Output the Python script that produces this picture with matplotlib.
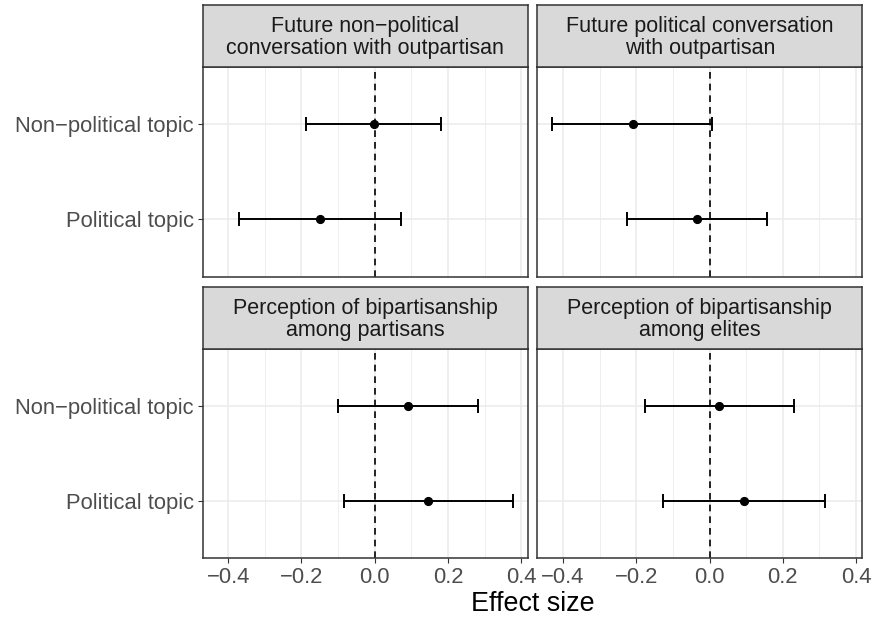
import matplotlib
matplotlib.use("Agg")
import matplotlib.pyplot as plt
from matplotlib.ticker import MultipleLocator

plt.rcParams["font.family"] = ["Liberation Sans", "DejaVu Sans"]

W, H = 873, 620

panel_titles = [
    "Future non\u2212political\nconversation with outpartisan",
    "Future political conversation\nwith outpartisan",
    "Perception of bipartisanship\namong partisans",
    "Perception of bipartisanship\namong elites",
]
topics = ["Political topic", "Non\u2212political topic"]

# estimates and 95% intervals, order: political, non-political
estimates = [
    [-0.150, -0.003],
    [-0.033, -0.210],
    [0.146, 0.091],
    [0.094, 0.027],
]
lower = [
    [-0.370, -0.188],
    [-0.224, -0.430],
    [-0.084, -0.100],
    [-0.127, -0.176],
]
upper = [
    [0.071, 0.182],
    [0.158, 0.007],
    [0.377, 0.282],
    [0.315, 0.230],
]

x_ticks = [-0.4, -0.2, 0.0, 0.2, 0.4]
x_ticklabels = ["\u22120.4", "\u22120.2", "0.0", "0.2", "0.4"]

# panel boxes in pixels: (left, right, strip_top, panel_top, panel_bottom)
cols = [(202.5, 527.5), (537.3, 862.3)]
rows = [(5.0, 66.7, 276.7), (286.7, 349.0, 558.0)]


def frac(left, right, top, bottom):
    return [left / W, 1 - bottom / H, (right - left) / W, (bottom - top) / H]


fig = plt.figure(figsize=(W / 100, H / 100), dpi=100)

lo_all = min(min(v) for v in lower)
hi_all = max(max(v) for v in upper)
pad = 0.05 * (hi_all - lo_all)
xlim = (lo_all - pad, hi_all + pad)

for i in range(4):
    r, c = divmod(i, 2)
    left, right = cols[c]
    s_top, p_top, p_bot = rows[r]

    ax = fig.add_axes(frac(left, right, p_top, p_bot))
    ax.set_xlim(*xlim)
    ax.set_ylim(0.4, 2.6)
    ax.xaxis.set_minor_locator(MultipleLocator(0.1))
    ax.grid(True, which="major", color="#EBEBEB", lw=1.1)
    ax.grid(True, which="minor", axis="x", color="#EBEBEB", lw=0.55)
    ax.set_axisbelow(True)
    ax.tick_params(which="minor", length=0)
    ax.tick_params(which="major", length=3.8, width=0.8, color="#333333",
                   labelsize=15.8, labelcolor="#4D4D4D", pad=2.5)
    for sp in ax.spines.values():
        sp.set_color("#333333")
        sp.set_linewidth(1.1)

    ys = [1, 2]
    ax.axvline(0, color="black", lw=1.2, ls=(0, (4, 3)), zorder=2)
    est = estimates[i]
    err = [[e - l for e, l in zip(est, lower[i])],
           [u - e for e, u in zip(est, upper[i])]]
    ax.errorbar(est, ys, xerr=err, fmt="o", color="black", ms=5.6,
                elinewidth=1.4, capsize=4.8, capthick=1.4, zorder=3)

    ax.set_xticks(x_ticks)
    ax.set_yticks(ys)
    if r == 1:
        ax.set_xticklabels(x_ticklabels)
    else:
        ax.tick_params(axis="x", which="major", length=0, labelbottom=False)
    if c == 0:
        ax.set_yticklabels(topics)
    else:
        ax.tick_params(axis="y", length=0, labelleft=False)

    sax = fig.add_axes(frac(left, right, s_top, p_top))
    sax.set_facecolor("#D9D9D9")
    sax.set_xticks([])
    sax.set_yticks([])
    for sp in sax.spines.values():
        sp.set_color("#333333")
        sp.set_linewidth(1.1)
    sax.text(0.5, 0.47, panel_titles[i], ha="center", va="center",
             fontsize=15.5, color="#1A1A1A", linespacing=1.05,
             transform=sax.transAxes)

fig.text(532.7 / W, 1 - 604 / H, "Effect size", ha="center", va="center",
         fontsize=19.4, color="black")

fig.savefig("out.png", dpi=100)
